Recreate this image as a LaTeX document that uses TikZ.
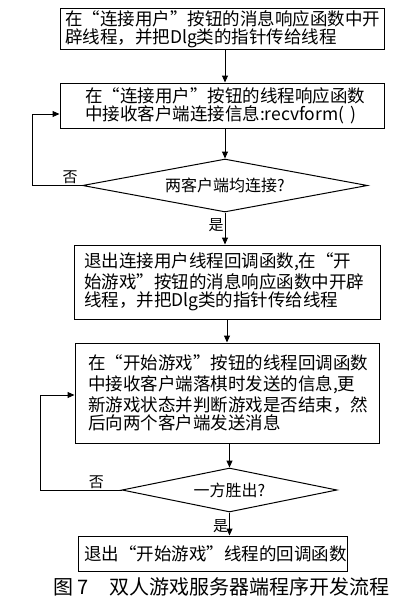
\documentclass[tikz,border=0pt]{standalone}
\usepackage{fontspec}
\newfontfamily\cjk{Noto Sans CJK SC}
\usetikzlibrary{arrows.meta,positioning,calc,shapes.geometric}
\newcommand{\lqz}{\makebox[1em][r]{“}}
\newcommand{\rqz}{\makebox[1em][l]{”}}
\tikzset{
  box/.style={draw, rectangle, line width=1pt, align=left, inner ysep=0pt, font=\cjk\fontsize{17.5}{18}\selectfont},
  cond/.style={draw, diamond, line width=1pt, inner sep=0pt, aspect=5, font=\cjk\fontsize{16}{18}\selectfont},
  lbl/.style={inner sep=1pt, font=\cjk\fontsize{15}{16}\selectfont},
  arr/.style={line width=1pt, -{Triangle[length=7pt,width=6pt]}},
}

\begin{document}
\begin{tikzpicture}
\useasboundingbox (0,0) rectangle (408pt,-602pt);
\node[box, inner xsep=5pt, text width=314pt, minimum height=41pt] (b1) at (222pt,-29.5pt)
  {\baselineskip=17pt 在\lqz 连接用户\rqz 按钮的消息响应函数中开\\辟线程，并把Dlg类的指针传给线程};
\node[box, inner xsep=25pt, text width=274pt, minimum height=45pt, below=32pt of b1] (b2)
  {\baselineskip=18pt 在\lqz 连接用户\rqz 按钮的线程响应函数\\中接收客户端连接信息:recvform(~)};
\node[cond, minimum width=285pt, minimum height=53pt, below=30pt of b2, xshift=3pt] (d1) {两客户端均连接?};
\node[box, inner xsep=10pt, text width=286pt, minimum height=74pt, below=32pt of d1, xshift=2pt] (b3)
  {\baselineskip=21.5pt 退出连接用户线程回调函数,在“开\\始游戏\rqz 按钮的消息响应函数中开辟\\线程，并把Dlg类的指针传给线程};
\node[box, inner xsep=13pt, text width=278pt, minimum height=100pt, below=23pt of b3] (b4)
  {\baselineskip=21pt 在\lqz 开始游戏\rqz 按钮的线程回调函数\\中接收客户端落棋时发送的信息,更\\新游戏状态并判断游戏是否结束，然\\后向两个客户端发送消息};
\node[cond, minimum width=215pt, minimum height=44pt, below=24pt of b4, xshift=2.5pt] (d2) {一方胜出?};
\node[box, inner xsep=6pt, text width=257pt, minimum height=35pt, below=23pt of d2, xshift=-17pt] (b5)
  {退出\lqz 开始游戏\rqz 线程的回调函数};
\node[font=\cjk\fontsize{20}{22}\selectfont] (cap) at (221.5pt,-587pt) {图\hspace{4pt}7\hspace{20pt}双人游戏服务器端程序开发流程};

\draw[arr] (b1.south -| d1) -- (d1 |- b2.north);
\draw[arr] (b2.south -| d1) -- (d1.north);
\draw[arr] (d1.south) -- node[lbl, left, pos=.4]{是} (d1.south |- b3.north);
\draw[arr] (d1.west) -- node[lbl, above, pos=.24]{否} ++(-50pt,0) |- ([yshift=-8.5pt]b2.west);
\draw[arr] (b3.south) -- (b4.north);
\draw[arr] (b4.south -| d2) -- (d2.north);
\draw[arr] (d2.south) -- node[lbl, left, pos=.6]{是} (d2.south |- b5.north);
\draw[arr] (d2.west) -- node[lbl, above, pos=.31]{否} ++(-81pt,0) |- ([yshift=-2pt]b4.west);
\end{tikzpicture}
\end{document}
